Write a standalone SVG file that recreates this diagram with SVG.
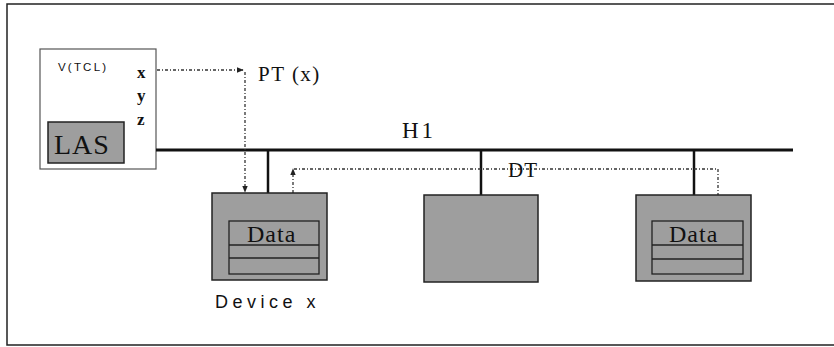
<svg xmlns="http://www.w3.org/2000/svg" width="834" height="347" viewBox="0 0 834 347">
<defs>
<style>
.frame{fill:none;stroke:#222;stroke-width:1.5}
.bus{stroke:#111;stroke-width:3;fill:none}
.drop{stroke:#111;stroke-width:2.5;fill:none}
.dev{fill:#9e9e9e;stroke:#222;stroke-width:1.5}
.inner{fill:none;stroke:#222;stroke-width:1.3}
.dot{fill:none;stroke:#333;stroke-width:1.3;stroke-dasharray:3 2 1 2}
.serif{font-family:"Liberation Serif","Times New Roman",serif;fill:#111}
.sans{font-family:"Liberation Sans",Arial,sans-serif;fill:#111}
</style>
<marker id="ah" viewBox="0 0 10 10" refX="9" refY="5" markerWidth="7" markerHeight="7" orient="auto" markerUnits="userSpaceOnUse">
<path d="M0,1 L10,5 L0,9 Z" fill="#222"/>
</marker>
</defs>
<rect width="834" height="347" fill="#fff"/>
<g id="frame">
<path class="frame" d="M834,4 H7 V345 H834"/>
</g>
<g id="vtcl">
<rect x="40" y="49" width="116" height="120" fill="#fff" stroke="#555" stroke-width="1.2"/>
<text class="sans" x="58" y="71" font-size="11.5" letter-spacing="2.2">V(TCL)</text>
<text class="serif" x="137" y="78" font-size="17" font-weight="bold">x</text>
<text class="serif" x="137" y="101" font-size="17" font-weight="bold">y</text>
<text class="serif" x="137" y="125" font-size="17" font-weight="bold">z</text>
</g>
<g id="las">
<rect x="48" y="122" width="76" height="41" class="dev"/>
<text class="serif" x="54" y="154" font-size="28" letter-spacing="1">LAS</text>
</g>
<g id="connectors">
<line class="bus" x1="156" y1="150" x2="793" y2="150"/>
<line class="drop" x1="268" y1="150" x2="268" y2="193"/>
<line class="drop" x1="481" y1="150" x2="481" y2="195"/>
<line class="drop" x1="694" y1="150" x2="694" y2="195"/>
<line class="dot" x1="157" y1="70" x2="243" y2="70" marker-end="url(#ah)"/>
<line class="dot" x1="245" y1="72" x2="245" y2="192" marker-end="url(#ah)"/>
<line class="dot" x1="293" y1="193" x2="293" y2="169" marker-end="url(#ah)"/>
<polyline class="dot" points="294,169 718,169 718,219" marker-end="url(#ah)"/>
<text class="serif" x="258" y="81" font-size="21" letter-spacing="1.5">PT (x)</text>
<text class="serif" x="402" y="138" font-size="23" letter-spacing="3">H1</text>
<text class="serif" x="508" y="177" font-size="21" letter-spacing="1">DT</text>
</g>
<g id="device-x">
<rect x="212" y="193" width="115" height="87" class="dev"/>
<rect x="229" y="221" width="90" height="53" class="inner"/>
<line class="inner" x1="229" y1="245" x2="319" y2="245"/>
<line class="inner" x1="229" y1="258" x2="319" y2="258"/>
<text class="serif" x="247" y="242" font-size="24" letter-spacing="1">Data</text>
<text class="sans" x="215" y="308" font-size="18" letter-spacing="4.5">Device x</text>
</g>
<g id="device-mid">
<rect x="424" y="195" width="114" height="87" class="dev"/>
</g>
<g id="device-right">
<rect x="636" y="195" width="115" height="86" class="dev"/>
<rect x="652" y="221" width="91" height="53" class="inner"/>
<line class="inner" x1="652" y1="245" x2="743" y2="245"/>
<line class="inner" x1="652" y1="259" x2="743" y2="259"/>
<text class="serif" x="669" y="242" font-size="24" letter-spacing="1">Data</text>
</g>
</svg>
